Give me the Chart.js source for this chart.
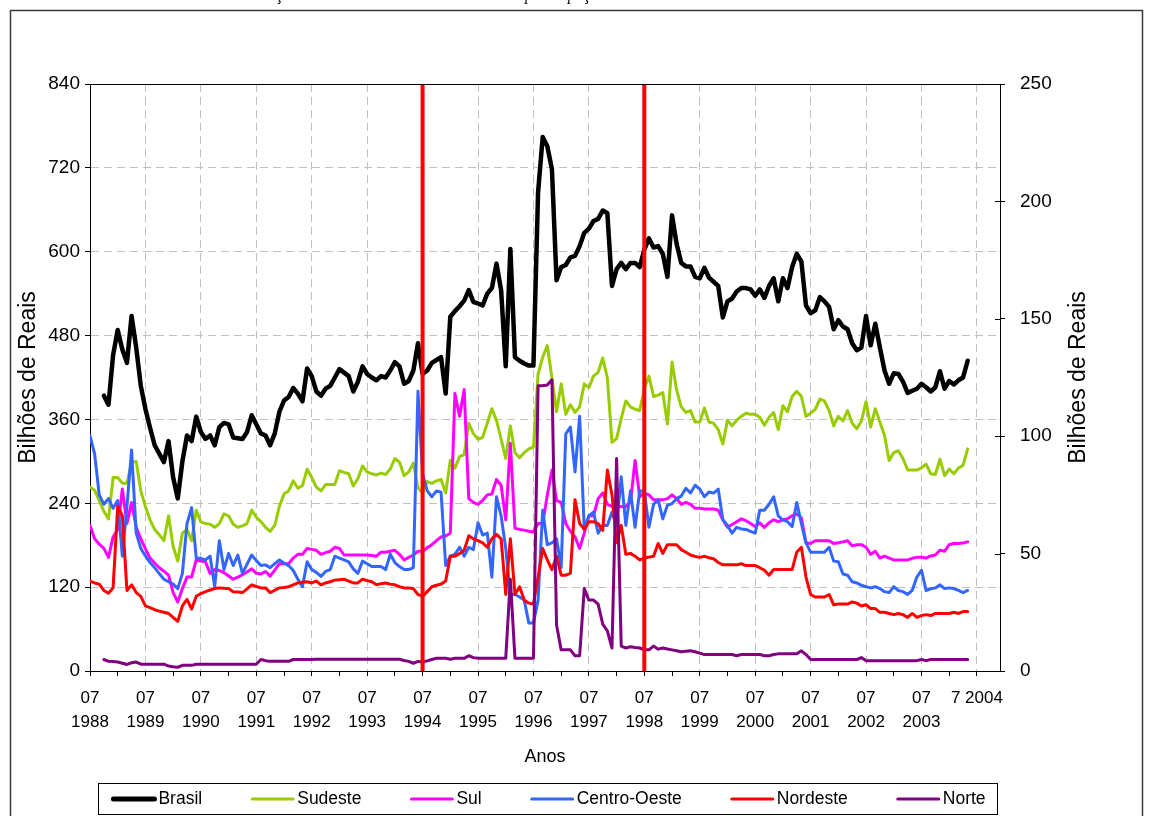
<!DOCTYPE html>
<html>
<head>
<meta charset="utf-8">
<script src="https://cdn.jsdelivr.net/npm/chart.js@4.4.1/dist/chart.umd.min.js"></script>
<style>
  html, body { margin: 0; padding: 0; background: #fff; }
  #wrap { position: relative; width: 1153px; height: 816px; overflow: hidden; }
  canvas { display: block; }
</style>
</head>
<body>
<div id="wrap"><canvas id="grafico" width="1153" height="816"></canvas></div>
<script>
// Meses contados a partir de julho de 1988 (índice 0 = 07/1988)
const mesRotulo = '07';
const anos = ['1988','1989','1990','1991','1992','1993','1994','1995',
              '1996','1997','1998','1999','2000','2001','2002','2003'];
const ultimoRotulo = '7 2004';
const linhasVerticais = [72, 120];   // 07/1994 e 07/1998

// Brasil — eixo da esquerda (bilhões de reais)
const brasil = [
  null,null,null,394,381,452,488,460,441,508,463,408,
  375,348,323,311,299,329,277,247,300,337,329,364,
  342,332,337,323,349,355,353,334,333,332,342,366,
  353,340,337,323,340,371,387,392,405,397,386,433,
  422,400,394,404,408,420,432,427,422,400,414,436,
  425,420,416,422,420,430,442,436,411,415,430,469,
  425,430,441,445,449,397,507,515,522,530,545,528,
  526,523,540,548,583,545,436,604,449,444,440,437,
  437,685,764,751,718,559,578,581,592,594,608,627,
  633,644,647,659,655,551,575,584,575,584,584,578,
  603,619,606,608,597,564,652,611,584,579,579,564,
  562,577,563,557,551,506,529,533,543,548,548,546,
  537,546,534,551,562,529,562,548,578,597,586,523,
  512,516,535,529,521,489,502,493,489,469,459,463,
  508,466,497,463,430,411,426,425,414,398,401,404,
  411,406,400,406,429,404,415,410,416,420,444
];

// Regiões — eixo da direita (bilhões de reais)
const sudeste = [
  78.3,77,72.6,68,64.8,82.4,82.4,80,80,88.9,89.2,76.7,
  70,64.4,60.3,58,55.5,66.1,53,46.8,58.7,60.3,55.5,68.5,
  63.5,62.8,62.5,61.2,62.8,66.9,66.1,62.5,61.2,61.8,62.8,68.5,
  65.5,63.6,61.2,59.5,62,70.1,75.5,76.7,81,77.8,79,86,
  82.4,78.3,76.7,79.4,79.4,79.4,85.3,84.6,84,78.8,82,87.3,
  84.8,84,83.5,84.3,83.7,86,90.5,88.9,83.2,84.8,88.6,78,
  75.8,80.7,79.9,81,81.6,75.8,89.7,86.4,91.3,92.2,105.5,101.1,
  98.7,99.5,105.5,111.7,106.8,98.7,90.5,104.4,93,90.8,93,94.6,
  95.4,126.4,133.7,138.6,124.8,110.4,122.3,109.3,113.4,110.1,112.5,122.3,
  120.7,125.6,127.2,133.3,124.8,97.4,99,107.6,115,112.5,111.5,110.9,
  120.2,125.6,116.9,117.5,118.6,105.2,131.6,119.6,112.5,110.1,110.9,106,
  106,112,106,105.5,102.8,96.7,106.8,104.4,106.8,108.5,109.8,109.3,
  109.3,108.1,104.7,108.1,110.1,102.8,113,110.4,116.9,119.1,116.9,108.5,
  109.8,111.4,115.8,115,110.9,104.4,108.5,106.5,110.9,105.5,103.2,106.5,
  114.7,103.9,111.7,106,100.3,89.7,93,93.8,90.5,85.6,85.6,85.6,
  86.5,88.1,84,83.7,90.2,83.2,86,84,86.4,87.6,94.6
];

const sul = [
  62,56.3,54,52.2,48.4,57.1,60.3,77.5,62.8,71.8,61.2,56.3,
  52,48.1,46,44,42.5,40.8,33.4,29.4,35.1,40,40,47.3,
  46.8,46.5,41.6,43.2,42.8,41.9,40.5,39.1,40,41,42.2,43.5,
  41.6,41.3,42.4,40.4,43,45.7,45.7,45.7,48.1,49.7,49.7,52.2,
  51.8,51.4,49.7,50.4,51,52.7,52.2,49.4,49.4,49.4,49.4,49.4,
  49.4,49.2,48.9,50.6,50.6,51,51.4,49.7,47.3,48.4,49.4,51,
  51,52.5,53.8,55.5,57.1,57.5,58.7,118.2,108.5,119.9,73.4,71.8,
  71,72.6,75,75.4,81.6,79.1,64.4,97,60.8,60.3,60,59.5,
  59.2,62.8,62.8,75,85.6,72.6,71.8,62.8,59.5,57.1,52.2,58.7,
  66.1,66.1,73.4,75.8,71,70.1,70.1,70.1,70.1,71.8,89.7,74.2,
  75.8,75,72.9,72.9,72.9,73.4,75,73.4,71,71.8,71,69.3,
  69.3,69,69,69,68.5,64.4,61.2,62.4,63.6,64.8,64,62.8,
  61.5,63.1,61.2,63.1,64.4,63.6,64.4,64.8,66.1,66.9,65.2,54.6,
  54.3,55.5,55.5,55.5,55.5,54.3,54.6,55,55.5,53.3,53.8,53.8,
  52.7,49.7,51,48.1,48.9,48.1,47.3,47.3,47.3,47.3,48,48.4,
  48.4,48.1,49,49.4,51.4,51,53.8,54.3,54.3,54.5,55
];

const centroOeste = [
  100.3,92.5,75,71,73.4,69.3,72.6,48.9,70.1,94.1,58.7,52.2,
  49,46.2,44,41.5,39.1,38,37,35.1,41.6,62.8,69.6,48.1,
  48,47.3,48.9,35.9,55.5,43.2,50.1,44.9,49.4,41.6,45.5,49.4,
  47,44.9,45.2,44,45.7,47.3,46,44.9,42.8,39.1,35.9,46.5,
  43.2,42,40.3,42.4,43.2,48.9,48.1,47.3,46.5,43.5,41.6,46.8,
  45.7,44.5,44.5,44.5,43.2,49.7,46.2,44.5,43.2,43.2,44,119.1,
  84,76.7,74.2,76.7,76.2,44.9,48.9,49.7,52.7,48.9,52.7,51.7,
  63.1,57.9,58.7,40,74.2,66.1,52.2,32.6,32.6,31.5,30.2,20.4,
  20.4,30.2,68.5,53.8,54.6,56.3,44,101,103.9,84.8,108.5,60.3,
  66.1,67.7,58.7,62,62,67.7,62,82.7,62,76.7,61.2,76.7,
  76.7,61.2,71,72.9,64.8,70.6,71.3,73.4,74.5,77.8,75.8,79.1,
  77.5,74.2,76.2,75.8,77.5,64.4,62,58.7,61.2,60.5,60.3,59.5,
  58.7,68.5,68.5,71,74.2,66.1,64.4,63.6,61.5,71.8,62.8,54.6,
  50.6,50.6,50.6,50.6,52.7,46.8,46.5,41.3,40.8,38,37.5,36.5,
  35.9,35.4,35.9,35.1,33.8,33.4,35.9,34.3,33.8,32.6,34.3,40,
  42.9,34.3,35,35.4,36.7,35.1,35.4,35.1,34.3,33.4,34.3
];

const nordeste = [
  38.3,37.5,37,34.3,33.1,35.4,70.1,66.1,34.3,36.7,33.4,31.8,
  27.7,27,26.1,25.5,25,24.5,22.8,21.2,27.7,30.5,26.4,31.8,
  33,33.8,34.5,35.1,35.4,35.2,35.1,33.8,33.6,33.4,35,36.7,
  36,35.4,35.4,33.4,34.4,35.4,35.6,35.9,36.7,37.5,37.8,38,
  37.5,38.3,36.7,37.5,38,38.7,38.9,39.1,38.3,37.5,37.5,39.1,
  38.5,38,36.7,37.2,37.5,37,36.7,35.9,35.4,35.3,35.1,32.6,
  31.8,33.8,35.9,36.5,37,38.3,48.9,48.9,50,51.4,57.6,56.3,
  55.5,54.6,52.7,56.3,58.2,56.3,32.6,56.3,32.6,35.9,30.2,28.9,
  28.5,40,52.2,47.3,43.2,48.9,40.8,40.8,41.6,72.9,62.8,60.3,
  63.6,63.6,62.8,59.9,85.6,75,54.6,62,49.7,50.1,48.9,47.3,
  48.1,48.5,48.9,54.3,50.1,53.8,53.8,53.8,51.7,50.6,49.4,48.8,
  48.4,48.9,48.2,47.8,46.2,45.2,45.2,45.2,45.2,45.7,44.9,44.9,
  44.9,44,42.9,40.8,43.2,43.2,43.2,43.2,43.2,50.6,52.7,40,
  32.6,31.5,31.5,31.5,32.6,28.2,28.5,28.5,28.5,29.4,28.9,27.7,
  28.2,26.6,26.6,25,25,24.5,24,24.5,24,22.8,24.5,22.8,
  23.6,24,23.6,24.5,24.5,24.5,24.5,25,24.5,25.3,25.3
];

const norte = [
  null,null,null,4.9,4.1,4.0,3.8,3.3,2.8,3.5,3.8,2.9,
  2.9,2.9,2.9,2.9,2.9,2.1,1.8,1.6,2.4,2.4,2.4,2.9,
  2.9,2.9,2.9,2.9,2.9,2.9,2.9,2.9,2.9,2.9,2.9,2.9,
  2.9,4.9,4.4,4.1,4.1,4.1,4.1,4.1,4.9,4.9,4.9,4.9,
  4.9,5,5,5,5,5,5,5,5,5,5,5,
  5,5,5,5,5,5,5,5,4.5,4.1,3.3,4.1,
  3.8,4.3,4.9,5.4,5.4,5.4,5,5.4,5.4,5.4,6.5,5.7,
  5.4,5.4,5.4,5.4,5.4,5.4,5.4,39.1,5.4,5.4,5.4,5.4,
  5.4,121.5,121.5,121.8,124,19.6,9,9,9,6.5,6.5,35.1,
  30.2,30.2,28.5,20,17.1,9.8,90.5,10.6,9.8,10.3,10,9.8,
  9,9,10.6,9.3,9.8,9.4,9,8.6,8.2,8.4,8.6,8.2,
  7.6,7,7,7,7,7,7,7,6.5,7,7,7,
  7,7,6.5,6.5,7,7.3,7.3,7.3,7.3,7.3,8.6,7,
  4.9,4.9,4.9,4.9,4.9,4.9,4.9,4.9,4.9,4.9,4.9,5.7,
  4.4,4.4,4.4,4.4,4.4,4.4,4.4,4.4,4.4,4.4,4.4,4.4,
  4.9,4.4,4.9,4.9,4.9,4.9,4.9,4.9,4.9,4.9,4.9
];

const FONTE = '"Liberation Sans", Arial, Helvetica, sans-serif';
const SERIFA = '"Liberation Serif", "Times New Roman", serif';
const pontos = serie => serie.map((v, i) => ({ x: i, y: v })).filter(p => p.y !== null);

const series = [
  { label: 'Brasil',       dados: brasil,      cor: '#000000', largura: 4.5, eixo: 'y'  },
  { label: 'Sudeste',      dados: sudeste,     cor: '#99cc00', largura: 3,   eixo: 'y1' },
  { label: 'Sul',          dados: sul,         cor: '#ff00ff', largura: 3,   eixo: 'y1' },
  { label: 'Centro-Oeste', dados: centroOeste, cor: '#3366ff', largura: 3,   eixo: 'y1' },
  { label: 'Nordeste',     dados: nordeste,    cor: '#ff0000', largura: 3,   eixo: 'y1' },
  { label: 'Norte',        dados: norte,       cor: '#800080', largura: 3,   eixo: 'y1' }
];

const datasets = series.map((s, i) => ({
  label: s.label,
  data: pontos(s.dados),
  yAxisID: s.eixo,
  borderColor: s.cor,
  backgroundColor: s.cor,
  borderWidth: s.largura,
  pointRadius: 0,
  tension: 0,
  borderJoinStyle: 'round',
  borderCapStyle: 'round',
  order: series.length - i
}));

// linhas verticais vermelhas de referência
linhasVerticais.forEach(m => datasets.push({
  label: '',
  data: [{ x: m, y: 0 }, { x: m, y: 840 }],
  yAxisID: 'y',
  borderColor: '#ff0000',
  borderWidth: 4,
  pointRadius: 0,
  order: 0
}));

// moldura, título da página (cortado no topo), borda superior da área de plotagem,
// marcas internas do eixo direito, título do eixo direito e legenda
const decoracao = {
  id: 'decoracao',
  beforeDraw(chart) {
    const ctx = chart.ctx;
    ctx.save();
    ctx.fillStyle = '#fff';
    ctx.fillRect(0, 0, chart.width, chart.height);
    ctx.fillStyle = '#000';
    ctx.font = 'italic 16px ' + SERIFA;
    ctx.textAlign = 'left';
    ctx.textBaseline = 'alphabetic';
    ctx.fillText('Evolução do saldo total e da', 239, 0);
    ctx.fillText('participação', 525, 0);
    ctx.strokeStyle = '#3a3a3a';
    ctx.lineWidth = 1.5;
    ctx.strokeRect(10.5, 10.5, 1132, 830);
    ctx.restore();
  },
  afterDraw(chart) {
    const ctx = chart.ctx;
    const a = chart.chartArea;
    ctx.save();
    ctx.strokeStyle = '#000';
    ctx.lineWidth = 1;
    ctx.beginPath();
    ctx.moveTo(a.left, a.top + 0.5);
    ctx.lineTo(a.right, a.top + 0.5);
    ctx.stroke();

    const y1 = chart.scales.y1;
    y1.ticks.forEach(t => {
      const py = Math.round(y1.getPixelForValue(t.value)) + 0.5;
      ctx.beginPath();
      ctx.moveTo(a.right - 5, py);
      ctx.lineTo(a.right, py);
      ctx.stroke();
    });

    ctx.fillStyle = '#000';
    ctx.font = '23px ' + FONTE;
    ctx.textAlign = 'center';
    ctx.textBaseline = 'middle';
    ctx.translate(1079, (a.top + a.bottom) / 2);
    ctx.rotate(-Math.PI / 2);
    ctx.fillText('Bilhões de Reais', 0, 0);
    ctx.setTransform(1, 0, 0, 1, 0, 0);

    // legenda
    const itens = series;
    ctx.font = '17.5px ' + FONTE;
    const amostra = 41, folga = 4, espaco = 50;
    const larg = itens.map(s => amostra + folga + ctx.measureText(s.label).width);
    const total = larg.reduce((p, q) => p + q, 0) + espaco * (itens.length - 1);
    const caixa = { x: 98, y: 783, w: 899, h: 31 };
    ctx.strokeStyle = '#000';
    ctx.lineWidth = 1;
    ctx.strokeRect(caixa.x + 0.5, caixa.y + 0.5, caixa.w, caixa.h);
    let x = 549.5 - total / 2;
    const yc = caixa.y + caixa.h / 2 + 0.5;
    ctx.textAlign = 'left';
    ctx.textBaseline = 'middle';
    itens.forEach((s, i) => {
      ctx.strokeStyle = s.cor;
      ctx.lineWidth = s.label === 'Brasil' ? 5 : 3;
      ctx.lineCap = 'round';
      ctx.beginPath();
      ctx.moveTo(x, yc);
      ctx.lineTo(x + amostra, yc);
      ctx.stroke();
      ctx.fillStyle = '#000';
      ctx.fillText(s.label, x + amostra + folga, yc);
      x += larg[i] + espaco;
    });
    ctx.restore();
  }
};

const cinza = '#c0c0c0';

new Chart(document.getElementById('grafico'), {
  type: 'line',
  data: { datasets },
  options: {
    responsive: false,
    devicePixelRatio: 1,
    animation: false,
    events: [],
    layout: { padding: { top: 84, bottom: 45, left: 0, right: 0 } },
    plugins: { legend: { display: false }, tooltip: { enabled: false } },
    scales: {
      x: {
        type: 'linear',
        min: 0,
        max: 197,
        afterBuildTicks: s => {
          const t = [];
          for (let v = 0; v <= 192; v += 6) t.push({ value: v });
          s.ticks = t;
        },
        afterFit: s => { s.height = 100; },
        ticks: {
          autoSkip: false,
          maxRotation: 0,
          minRotation: 0,
          padding: 10,
          color: '#000',
          font: { family: FONTE, size: 17, lineHeight: '24px' },
          callback: v => (v % 12 !== 0) ? '' : (v === 192 ? ultimoRotulo : [mesRotulo, anos[v / 12]])
        },
        grid: {
          color: c => (c.tick && c.tick.value % 12 === 0 && c.tick.value > 0) ? cinza : 'transparent',
          tickColor: '#000',
          tickLength: 5,
          lineWidth: 1
        },
        border: { color: '#000', width: 1, dash: [8, 5] },
        title: {
          display: true,
          text: 'Anos',
          color: '#000',
          font: { family: FONTE, size: 18 },
          padding: { top: 0, bottom: 3 }
        }
      },
      y: {
        position: 'left',
        min: 0,
        max: 840,
        afterBuildTicks: s => {
          const t = [];
          for (let v = 0; v <= 840; v += 120) t.push({ value: v });
          s.ticks = t;
        },
        afterFit: s => { s.width = 90; },
        ticks: { padding: 5, color: '#000', font: { family: FONTE, size: 19 } },
        grid: {
          color: c => (c.tick && c.tick.value > 0 && c.tick.value < 840) ? cinza : 'transparent',
          tickColor: '#000',
          tickLength: 5,
          lineWidth: 1
        },
        border: { color: '#000', width: 1, dash: [8, 5] },
        title: {
          display: true,
          text: 'Bilhões de Reais',
          color: '#000',
          font: { family: FONTE, size: 23 },
          padding: { top: 15 }
        }
      },
      y1: {
        position: 'right',
        min: 0,
        max: 250,
        afterBuildTicks: s => {
          const t = [];
          for (let v = 0; v <= 250; v += 50) t.push({ value: v });
          s.ticks = t;
        },
        afterFit: s => { s.width = 153; },
        ticks: { padding: 15, color: '#000', font: { family: FONTE, size: 19 } },
        grid: { drawOnChartArea: false, tickColor: '#000', tickLength: 5, lineWidth: 1 },
        border: { color: '#000', width: 1 }
      }
    }
  },
  plugins: [decoracao]
});
</script>
</body>
</html>
